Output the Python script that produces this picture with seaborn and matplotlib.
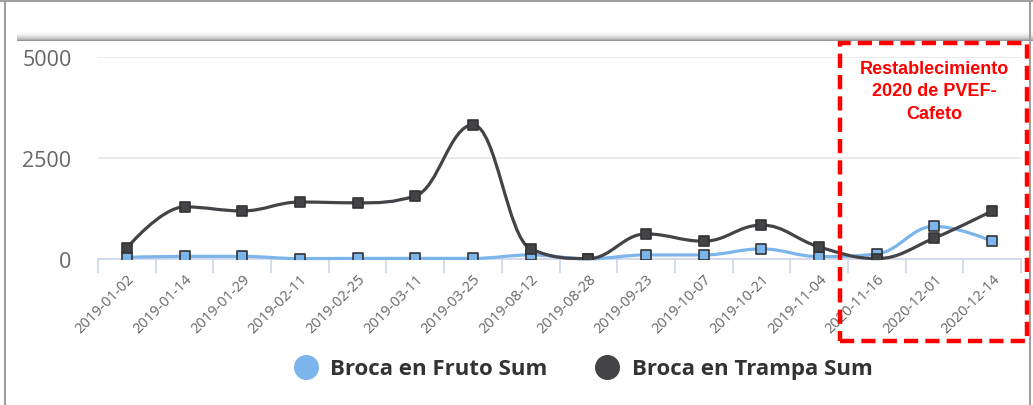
import numpy as np
import pandas as pd
import seaborn as sns
import matplotlib.pyplot as plt
from matplotlib.path import Path
from matplotlib.patches import PathPatch, Rectangle
from matplotlib.lines import Line2D

fechas = ['2019-01-02', '2019-01-14', '2019-01-29', '2019-02-11', '2019-02-25',
          '2019-03-11', '2019-03-25', '2019-08-12', '2019-08-28', '2019-09-23',
          '2019-10-07', '2019-10-21', '2019-11-04', '2020-11-16', '2020-12-01',
          '2020-12-14']
fruto = [40, 65, 65, 10, 15, 15, 15, 100, 5, 100, 100, 250, 60, 125, 810, 440]
trampa = [270, 1290, 1190, 1410, 1390, 1560, 3320, 250, 10, 620, 440, 840, 300, 10, 520, 1190]
y_ticks = [0, 2500, 5000]

c_fruto = '#7cb5ec'
c_trampa = '#434348'

sns.set_style('white')
plt.rcParams['font.family'] = ['Open Sans', 'DejaVu Sans']

W, H = 1033, 406
fig = plt.figure(figsize=(W / 100, H / 100), dpi=100)
ax = fig.add_axes([98 / W, 1 - 260 / H, 923 / W, 202 / H])


def spline(xs, ys, smoothing=1.5):
    # highcharts-like spline control points
    n = len(xs)
    den = smoothing + 1
    lc, rc = [], []
    for i in range(n):
        x, y = xs[i], ys[i]
        if 0 < i < n - 1:
            px, py = xs[i - 1], ys[i - 1]
            nx, ny = xs[i + 1], ys[i + 1]
            lcx, lcy = (smoothing * x + px) / den, (smoothing * y + py) / den
            rcx, rcy = (smoothing * x + nx) / den, (smoothing * y + ny) / den
            corr = ((rcy - lcy) * (rcx - x)) / (rcx - lcx) + y - rcy
            lcy += corr
            rcy += corr
            if lcy > py and lcy > y:
                lcy = max(py, y); rcy = 2 * y - lcy
            elif lcy < py and lcy < y:
                lcy = min(py, y); rcy = 2 * y - lcy
            if rcy > ny and rcy > y:
                rcy = max(ny, y); lcy = 2 * y - rcy
            elif rcy < ny and rcy < y:
                rcy = min(ny, y); lcy = 2 * y - rcy
            lc.append((lcx, lcy)); rc.append((rcx, rcy))
        else:
            lc.append((x, y)); rc.append((x, y))
    verts = [(xs[0], ys[0])]
    codes = [Path.MOVETO]
    for i in range(1, n):
        verts += [rc[i - 1], lc[i], (xs[i], ys[i])]
        codes += [Path.CURVE4] * 3
    return Path(verts, codes)


idx = np.arange(len(fechas))
df = pd.DataFrame({'x': np.concatenate([idx, idx]),
                   'valor': fruto + trampa,
                   'serie': ['Broca en Fruto Sum'] * len(fechas) + ['Broca en Trampa Sum'] * len(fechas)})

z = 3
for serie, col, vals in [('Broca en Fruto Sum', c_fruto, fruto), ('Broca en Trampa Sum', c_trampa, trampa)]:
    ax.add_patch(PathPatch(spline(idx, vals), facecolor='none', edgecolor=col, lw=2.3,
                           zorder=z, capstyle='round', joinstyle='round'))
    sns.scatterplot(data=df[df['serie'] == serie], x='x', y='valor', color=col, marker='s',
                    s=55, edgecolor='#333333', linewidth=1.2, ax=ax, zorder=z + 1, legend=False)
    z += 2

ax.set_xlim(-0.5, len(fechas) - 0.5)
ax.set_ylim(0, 5000)
ax.set_yticks(y_ticks)
ax.set_yticklabels([str(v) for v in y_ticks], color='#666666', fontsize=15.5)
ax.tick_params(axis='y', length=0, pad=19)
ax.set_xticks(idx)
ax.set_xticklabels(fechas, rotation=45, ha='right', rotation_mode='anchor',
                   color='#666666', fontsize=10.5)
ax.set_xticks(np.arange(len(fechas) + 1) - 0.5, minor=True)
ax.tick_params(axis='x', which='major', length=0, pad=9)
ax.tick_params(axis='x', which='minor', bottom=True, length=10, width=1.2,
               color='#ccd6eb', direction='out')
ax.set_xlabel('')
ax.set_ylabel('')
for s in ['top', 'right', 'left']:
    ax.spines[s].set_visible(False)
ax.spines['bottom'].set_color('#ccd6eb')
ax.spines['bottom'].set_linewidth(1.2)
ax.yaxis.grid(True, color='#e6e6e6', lw=1.2)
ax.set_axisbelow(True)
for art in ax.patches:
    art.set_clip_on(False)

# legend
handles = [Line2D([], [], marker='o', ls='', markersize=17, markerfacecolor=c, markeredgecolor=c)
           for c in [c_fruto, c_trampa]]
fig.legend(handles, ['Broca en Fruto Sum', 'Broca en Trampa Sum'], loc='center',
           bbox_to_anchor=(578 / W, 1 - 370 / H), ncol=2, frameon=False,
           prop={'weight': 'bold', 'size': 16}, labelcolor='#333333',
           handletextpad=0.1, columnspacing=1.7)

# frame and shadow band
grad = np.linspace(0, 1, 50).reshape(-1, 1) ** 1.5
sax = fig.add_axes([17 / W, 1 - 42 / H, 1 - 17 / W, 10 / H])
sax.imshow(grad, aspect='auto', cmap='Greys', vmin=0, vmax=1.9, extent=[0, 1, 0, 1], origin='upper')
sax.axis('off')
fig.add_artist(Line2D([0, 1], [1 - 2 / H, 1 - 2 / H], transform=fig.transFigure, color='#a0a0a0', lw=1.5))
fig.add_artist(Line2D([5 / W, 5 / W], [0, 1], transform=fig.transFigure, color='#a0a0a0', lw=1.5))
fig.add_artist(Line2D([1030 / W, 1030 / W], [0, 1], transform=fig.transFigure, color='#a0a0a0', lw=1.5))

# red dashed box
fig.add_artist(Rectangle((840 / W, 1 - 342 / H), 187 / W, 298 / H, transform=fig.transFigure,
                         fill=False, edgecolor='#ff0000', lw=3.2, ls=(0, (3.2, 1.6)), zorder=20))
fig.text(934 / W, 1 - 92 / H, 'Restablecimiento\n2020 de PVEF-\nCafeto', color='#ff0000',
         ha='center', va='center', fontsize=13, fontweight='bold', linespacing=1.45,
         family=['Liberation Sans', 'DejaVu Sans'], zorder=21)

fig.savefig('out.png', dpi=100, facecolor='white')
